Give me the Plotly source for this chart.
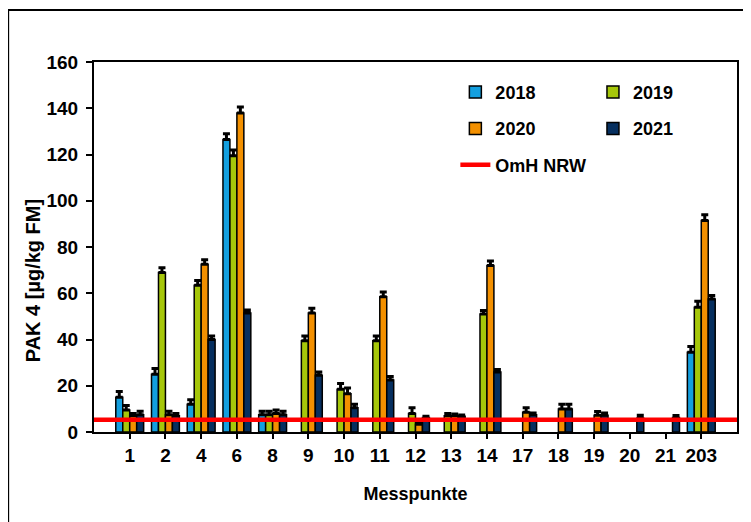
import plotly.graph_objects as go

categories = ["1", "2", "4", "6", "8", "9", "10", "11", "12", "13", "14", "17", "18", "19", "20", "21", "203"]
v2018 = [15, 25, 12, 126.5, 7.5, None, None, None, None, None, None, None, None, None, None, None, 34.5]
e2018 = [2.5, 2.5, 2, 2.5, 1.5, 0, 0, 0, 0, 0, 0, 0, 0, 0, 0, 0, 2.5]
v2019 = [9.5, 69, 63.5, 119.5, 7.5, 39.5, 18.5, 39.5, 8, 7, 51, None, None, None, None, None, 54]
e2019 = [2, 2, 2, 2.5, 1.5, 2, 2.5, 2, 2.5, 1, 1.5, 0, 0, 0, 0, 0, 2.5]
v2020 = [7, 7.5, 72.5, 138, 8, 51.5, 16.5, 58.5, 3.3, 7, 72, 8.5, 10, 7.2, None, None, 91.5]
e2020 = [1, 1.5, 2, 2.5, 1.5, 2, 2.5, 2, 0.5, 0.8, 2, 2, 2, 1.7, 0, 0, 2.5]
v2021 = [7.5, 7, 40, 51.5, 7.5, 24.5, 10.5, 22.5, 6.3, 6.8, 26, 7.5, 10, 7.2, 6, 6.3, 57.5]
e2021 = [1.5, 1, 1.5, 1.3, 1.5, 1.5, 1.5, 1.5, 0.5, 0.5, 1, 0.7, 2, 1, 1.2, 0.8, 1.5]
omh_value = 5.3

series = [
    ("2018", v2018, e2018, "#139fdf", "legend"),
    ("2019", v2019, e2019, "#a6c70a", "legend2"),
    ("2020", v2020, e2020, "#f39000", "legend"),
    ("2021", v2021, e2021, "#062f5f", "legend2"),
]

font_family = "Liberation Sans, Arial, sans-serif"

fig = go.Figure()
for name, vals, errs, color, leg in series:
    fig.add_trace(go.Bar(
        x=categories, y=vals, name=name, legend=leg, legendgroup=name,
        marker=dict(color=color, line=dict(color="black", width=1.5)),
        error_y=dict(type="data", symmetric=False, array=errs,
                     arrayminus=[0] * len(errs), color="black",
                     thickness=3, width=3.5),
    ))

fig.add_trace(go.Scatter(
    x=[0, 1], y=[omh_value, omh_value], xaxis="x2", mode="lines",
    name="OmH NRW", legend="legend", legendgroup="omh",
    line=dict(color="#ff0000", width=4.5),
))

tick_font = dict(family=font_family, size=19, color="black", weight="bold")
legend_font = dict(family=font_family, size=18, color="black", weight="bold")

fig.update_layout(
    width=743, height=514,
    margin=dict(l=86, r=14, t=54, b=90),
    paper_bgcolor="white", plot_bgcolor="white",
    barmode="group", bargap=0.22, bargroupgap=0,
    font=dict(family=font_family, size=17, color="black", weight="bold"),
    xaxis=dict(
        type="category", range=[-1, 17],
        showline=True, linecolor="black", linewidth=2, mirror=True,
        ticks="outside", ticklen=5, tickwidth=2, tickcolor="black",
        tickfont=tick_font, showgrid=False, zeroline=False,
        title=dict(text="Messpunkte", font=dict(family=font_family, size=18, color="black", weight="bold"), standoff=23),
    ),
    xaxis2=dict(overlaying="x", range=[0, 1], visible=False),
    yaxis=dict(
        range=[0, 160], dtick=20,
        showline=True, linecolor="black", linewidth=2, mirror=True,
        ticks="outside", ticklen=6, tickwidth=2, tickcolor="black",
        tickfont=tick_font, showgrid=False, zeroline=False,
        ticklabelstandoff=4,
    ),
    legend=dict(
        x=0.562, y=0.968, xanchor="left", yanchor="top",
        bgcolor="rgba(0,0,0,0)", traceorder="grouped", tracegroupgap=10,
        font=legend_font, itemwidth=30,
    ),
    legend2=dict(
        x=0.776, y=0.968, xanchor="left", yanchor="top",
        bgcolor="rgba(0,0,0,0)", traceorder="grouped", tracegroupgap=10,
        font=legend_font, itemwidth=30,
    ),
    annotations=[dict(
        text="PAK 4 [µg/kg FM]", textangle=-90,
        xref="paper", yref="paper", x=-0.095, y=0.41,
        xanchor="center", yanchor="middle", showarrow=False,
        font=dict(family=font_family, size=20, color="black", weight="bold"),
    )],
    shapes=[dict(
        type="rect", xref="paper", yref="paper",
        x0=-0.1335, x1=1.1, y0=-0.3, y1=1.1405,
        line=dict(color="black", width=2), fillcolor="rgba(0,0,0,0)",
        layer="above",
    )],
)

fig.write_html("out.html")
